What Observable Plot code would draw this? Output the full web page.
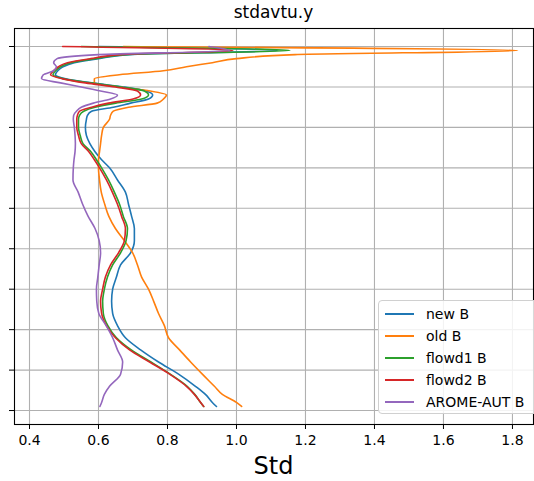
<!DOCTYPE html>
<html><head><meta charset="utf-8">
<script src="https://cdn.jsdelivr.net/npm/d3@7"></script>
<script src="https://cdn.jsdelivr.net/npm/@observablehq/plot@0.6"></script>
<style>
body{margin:0;background:#fff;font-family:"DejaVu Sans",sans-serif;}
#wrap{position:relative;width:534px;height:481px;overflow:hidden;background:#fff;}
#wrap svg{position:absolute;left:0;top:0;}
.ttl{position:absolute;left:14px;width:519px;text-align:center;white-space:nowrap;color:#000;}
#legend{position:absolute;left:378px;top:300px;width:160px;height:114px;box-sizing:border-box;border:1px solid #d0d0d0;border-radius:4px;background:rgba(255,255,255,0.85);}
.lrow{position:absolute;left:0;height:22px;width:160px;}
.lline{position:absolute;left:6px;top:10px;width:29px;height:0;border-top:2px solid;}
.ltxt{position:absolute;left:47px;top:0;font-size:14px;line-height:22px;white-space:nowrap;color:#000;}
</style></head><body>
<div id="wrap"></div>
<script>
const titleText = "stdavtu.y";
const xLabel = "Std";
const seriesNames = ["new B", "old B", "flowd1 B", "flowd2 B", "AROME-AUT B"];
const seriesColors = ["#1f77b4", "#ff7f0e", "#2ca02c", "#d62728", "#9467bd"];
const xTicks = [0.4, 0.6, 0.8, 1.0, 1.2, 1.4, 1.6, 1.8];
const yTicks = [0, 10, 20, 30, 40, 50, 60, 70, 80, 90];

const levels = [0,1,2,3,4,5,6,7,8,9,10,11,12,13,14,15,16,17,18,20,22,24,26,28,30,33,36,39,42,45,48,51,54,57,60,63,66,69,72,75,78,81,84,86,88,89];

const newB = [0.60,1.12,0.69,0.60,0.53,0.497,0.482,0.475,0.505,0.58,
  0.672,0.738,0.757,0.745,0.693,0.643,0.58,0.568,0.565,
  0.562,0.565,0.575,0.59,0.609,0.632,
  0.655,0.678,0.687,0.696,0.704,0.704,0.693,0.664,0.652,0.641,
  0.638,0.641,0.655,0.678,0.722,0.774,0.832,0.881,0.91,0.93,0.942];

const oldB = [0.672,1.815,1.17,1.0,0.93,0.855,0.788,0.66,0.588,0.588,
  0.66,0.75,0.797,0.788,0.77,0.687,0.643,0.635,0.632,
  0.614,0.609,0.606,0.603,0.6,0.6,
  0.603,0.608,0.618,0.63,0.649,0.675,0.699,0.713,0.725,0.745,
  0.76,0.774,0.791,0.803,0.835,0.867,0.901,0.936,0.959,1.0,1.015];

const flowd1B = [0.55,1.155,0.68,0.59,0.52,0.49,0.476,0.468,0.5,0.575,
  0.665,0.733,0.745,0.725,0.65,0.59,0.557,0.545,0.542,
  0.542,0.547,0.555,0.578,0.594,0.609,
  0.629,0.646,0.661,0.672,0.684,0.68,0.664,0.641,0.626,0.617,
  0.612,0.614,0.627,0.652,0.695,0.752,0.808,0.857,0.879,0.896,0.905];

const flowd2B = [0.496,0.99,0.664,0.577,0.51,0.484,0.47,0.461,0.496,0.562,
  0.649,0.713,0.722,0.70,0.629,0.58,0.545,0.539,0.537,
  0.537,0.542,0.55,0.572,0.588,0.603,
  0.623,0.64,0.655,0.667,0.678,0.675,0.658,0.635,0.62,0.612,
  0.606,0.609,0.623,0.649,0.69,0.748,0.806,0.855,0.878,0.896,0.905];

const aromeAutB = [0.92,0.98,0.60,0.48,0.47,0.478,0.47,0.44,0.435,0.49,
  0.55,0.606,0.655,0.635,0.585,0.55,0.536,0.528,0.527,
  0.53,0.532,0.533,0.532,0.529,0.527,
  0.526,0.541,0.554,0.57,0.59,0.602,0.606,0.602,0.598,0.594,
  0.595,0.601,0.622,0.641,0.655,0.67,0.664,0.632,0.617,0.609,0.604];

const seriesValues = [newB, oldB, flowd1B, flowd2B, aromeAutB];
const table = seriesNames.flatMap((name, i) =>
  levels.map((lev, j) => ({series: name, level: lev, std: seriesValues[i][j]})));

const chart = Plot.plot({
  width: 534,
  height: 481,
  marginLeft: 14,
  marginRight: 1,
  marginTop: 28,
  marginBottom: 57,
  style: {background: "#fff", fontFamily: "DejaVu Sans", fontSize: "14px", color: "#000", overflow: "visible"},
  x: {domain: [0.3565, 1.861], ticks: xTicks, tickFormat: d3.format(".1f"), tickSize: 5, tickPadding: 6, label: null},
  y: {domain: [-4.45, 93.45], reverse: true, ticks: yTicks, tickFormat: () => "", tickSize: 5, label: null},
  color: {domain: seriesNames, range: seriesColors},
  marks: [
    Plot.ruleX(xTicks, {stroke: "#b0b0b0", strokeWidth: 1.1}),
    Plot.ruleY(yTicks, {stroke: "#b0b0b0", strokeWidth: 1.1}),
    Plot.line(table, {x: "std", y: "level", z: "series", stroke: "series", strokeWidth: 1.6, curve: "monotone-y"}),
    Plot.frame({stroke: "#000", strokeWidth: 1.1})
  ]
});

const wrap = document.getElementById("wrap");
wrap.appendChild(chart);

const t = document.createElement("div");
t.className = "ttl";
t.style.top = "4px"; t.style.fontSize = "17px"; t.style.lineHeight = "17px";
t.textContent = titleText;
wrap.appendChild(t);

const xl = document.createElement("div");
xl.className = "ttl";
xl.style.top = "454px"; xl.style.fontSize = "24px"; xl.style.lineHeight = "24px";
xl.textContent = xLabel;
wrap.appendChild(xl);

const lg = document.createElement("div");
lg.id = "legend";
seriesNames.forEach((name, i) => {
  const r = document.createElement("div");
  r.className = "lrow";
  r.style.top = (1.5 + i * 22) + "px";
  const ln = document.createElement("div");
  ln.className = "lline";
  ln.style.borderTopColor = seriesColors[i];
  const tx = document.createElement("div");
  tx.className = "ltxt";
  tx.textContent = name;
  r.appendChild(ln); r.appendChild(tx);
  lg.appendChild(r);
});
wrap.appendChild(lg);
</script>
</body></html>
